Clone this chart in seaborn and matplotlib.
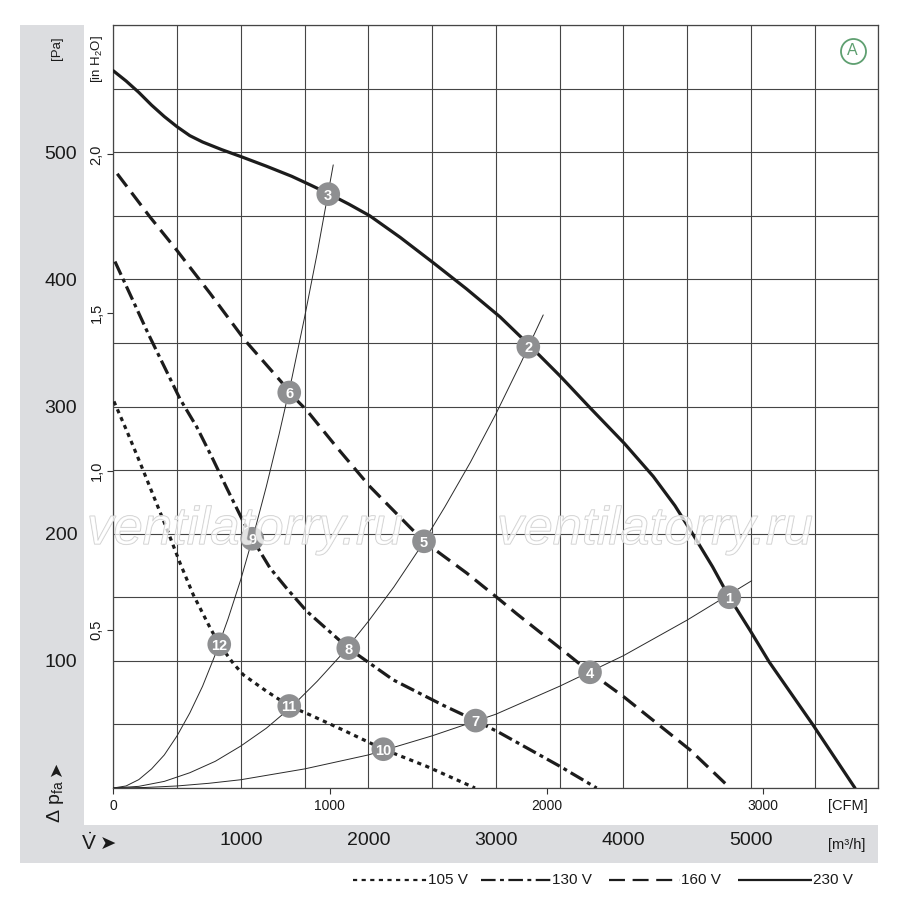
import numpy as np
import pandas as pd
import matplotlib
matplotlib.use("Agg")
import matplotlib.pyplot as plt
import matplotlib.patheffects as pe
from matplotlib.patches import Rectangle
from matplotlib.lines import Line2D
import seaborn as sns

# -----------------------------
# data (flow in m3/h, pressure in Pa)
# -----------------------------
q_230 = [0, 100, 200, 300, 400, 500, 600, 700, 850, 1015, 1200, 1400, 1550, 1686, 1850, 2011,
         2250, 2510, 2770, 3033, 3255, 3504, 3739, 4008, 4235, 4405, 4549, 4700, 4831, 4994,
         5145, 5485, 5817]
p_230 = [564, 556, 547, 537, 528, 520, 513, 508, 502, 496, 489, 481, 474, 467.5, 459, 450,
         433, 413, 392.5, 370.5, 349, 324, 299, 271, 245, 222, 199, 174, 150, 124,
         99, 50, 0]

q_160 = [31, 288, 497, 759, 1033, 1321, 1380, 1517, 1752, 2013, 2327, 2437, 2562, 2772, 3007,
         3164, 3504, 3739, 4000, 4523, 4837]
p_160 = [483, 449, 423, 389, 352, 319, 311, 297, 268, 237, 205, 194, 184.5, 169, 150,
         137, 110, 91, 72, 30, 0]

q_130 = [13, 275, 523, 654, 784, 889, 1007, 1090, 1229, 1360, 1517, 1843, 2196, 2588, 2842,
         3020, 3504, 3791]
p_130 = [414, 357, 306, 284, 258, 236, 212, 196, 173, 157, 139, 110, 85, 65, 53,
         44, 17, 0]

q_105 = [5, 105, 209, 314, 419, 523, 627, 759, 831, 941, 1020, 1203, 1380, 1543, 1804, 2118,
         2458, 2837]
p_105 = [304, 281, 256, 230, 204, 177, 152, 126, 113, 98, 89, 76, 64.5, 57.5, 45.5, 30.5,
         17, 0]

# system (load) curves through the operating points
q_sysA = [0, 100, 200, 300, 400, 500, 600, 700, 800, 900, 1000, 1100, 1200, 1300, 1400, 1500, 1600, 1725]
p_sysA = [0, 1.6, 6.6, 15, 26, 41, 59, 80, 105, 133, 164, 199, 237, 278, 322, 370, 421, 490]
q_sysB = [0, 200, 400, 600, 800, 1000, 1200, 1400, 1600, 1800, 2000, 2200, 2400, 2600, 2800, 3000, 3200, 3372]
p_sysB = [0, 1.3, 5.2, 12, 21, 33, 47, 64, 84, 106, 131, 158, 188, 221, 256, 294, 335, 372]
q_sysC = [0, 250, 500, 750, 1000, 1500, 2000, 2500, 3000, 3500, 4000, 4500, 5007]
p_sysC = [0, 0.4, 1.6, 3.7, 6.5, 15, 26, 41, 58, 80, 104, 132, 163]

# numbered operating points
pt_num = [1, 2, 3, 4, 5, 6, 7, 8, 9, 10, 11, 12]
pt_q = [4831, 3255, 1686, 3739, 2437, 1380, 2842, 1843, 1090, 2118, 1380, 831]
pt_p = [150, 347, 467, 91, 194, 311, 53, 110, 196, 30.5, 64.5, 113]

pa_labels = [100, 200, 300, 400, 500]
m3h_labels = [1000, 2000, 3000, 4000, 5000]
cfm_ticks = [0, 1000, 2000, 3000]
inh2o_ticks = [0.5, 1.0, 1.5, 2.0]
legend_names = ["105 V", "130 V", "160 V", "230 V"]

# -----------------------------
# style
# -----------------------------
sns.set_theme(style="white")
FONT = ["Liberation Sans", "DejaVu Sans"]
plt.rcParams["font.family"] = FONT
plt.rcParams["lines.scale_dashes"] = False
plt.rcParams["mathtext.fontset"] = "custom"
plt.rcParams["mathtext.rm"] = "Liberation Sans"
plt.rcParams["mathtext.it"] = "Liberation Sans:italic"

W, H = 900, 898
fig = plt.figure(figsize=(9, 8.98), dpi=100)


def fx(px):
    return px / W


def fy(py):
    return 1 - py / H


TXT = "#1a1a1a"

# gray bands
fig.add_artist(Rectangle((fx(20), fy(863)), fx(84) - fx(20), fy(25) - fy(863),
                         transform=fig.transFigure, color="#dcdde0", zorder=0, lw=0))
fig.add_artist(Rectangle((fx(20), fy(863)), fx(878) - fx(20), fy(825) - fy(863),
                         transform=fig.transFigure, color="#dcdde0", zorder=0, lw=0))

ax = fig.add_axes([fx(113.3), fy(788), fx(878.3) - fx(113.3), fy(25) - fy(788)])
ax.set_xlim(0, 6000)
ax.set_ylim(0, 600)
ax.set_axisbelow(True)

GRID = "#454545"
ax.set_xticks(np.arange(0, 6001, 500))
ax.set_yticks(np.arange(0, 601, 50))
ax.set_xticklabels([str(v) if v in m3h_labels else "" for v in np.arange(0, 6001, 500)])
ax.set_yticklabels([str(v) if v in pa_labels else "" for v in np.arange(0, 601, 50)])
ax.grid(True, color=GRID, lw=0.8)
ax.tick_params(axis="x", length=0, pad=32, labelsize=14, colors=TXT)
ax.tick_params(axis="y", length=0, pad=26, labelsize=14, colors=TXT)
for s in ax.spines.values():
    s.set_color(GRID)
    s.set_linewidth(0.9)

# CFM scale under the plot
sec_x = ax.secondary_xaxis("bottom", functions=(lambda q: q / 1.699, lambda c: c * 1.699))
sec_x.set_xticks(cfm_ticks)
sec_x.tick_params(length=4, width=0.8, color="#333333", pad=4, labelsize=10, labelcolor=TXT)
sec_x.spines["bottom"].set_visible(False)

# in H2O scale left of the plot
sec_y = ax.secondary_yaxis("left", functions=(lambda p: p / 249.09, lambda h: h * 249.09))
sec_y.set_yticks(inh2o_ticks)
sec_y.set_yticklabels([f"{v:.1f}".replace(".", ",") for v in inh2o_ticks],
                      rotation=90, va="center", ha="right")
sec_y.tick_params(length=4.5, width=0.8, color="#333333", pad=2.5, labelsize=10.5, labelcolor=TXT)
sec_y.spines["left"].set_visible(False)

# watermark
for cx in (245, 655):
    fig.text(fx(cx), fy(530), "ventilatorry.ru", ha="center", va="center", fontsize=38,
             style="italic", color=(1, 1, 1, 0.5), zorder=3,
             path_effects=[pe.Stroke(linewidth=0.8, foreground="#cccccc"), pe.Normal()])

# system curves
for q, p in ((q_sysA, p_sysA), (q_sysB, p_sysB), (q_sysC, p_sysC)):
    sns.lineplot(x=q, y=p, ax=ax, color="#2a2a2a", lw=0.7, estimator=None, sort=False, zorder=4)

# fan curves
INK = "#1c1c1c"
curve_styles = {
    "105 V": (q_105, p_105, (3.0, 3.2)),
    "130 V": (q_130, p_130, (10.5, 3.2, 2.8, 3.2)),
    "160 V": (q_160, p_160, (11.5, 5.5)),
    "230 V": (q_230, p_230, None),
}
for name, (q, p, dash) in curve_styles.items():
    kw = dict(color=INK, lw=2.3, estimator=None, sort=False, zorder=5, ax=ax)
    if dash is not None:
        kw["dashes"] = dash
    sns.lineplot(x=q, y=p, **kw)
for ln in ax.lines:
    ln.set_dash_capstyle("butt")
    ln.set_solid_capstyle("round")
    ln.set_solid_joinstyle("round")

# numbered operating points
pts = pd.DataFrame({"q": pt_q, "p": pt_p, "n": pt_num})
sns.scatterplot(data=pts, x="q", y="p", ax=ax, s=290, color="#8e8f91", edgecolor="none",
                zorder=7, legend=False)
for _, r in pts.iterrows():
    ax.text(r["q"], r["p"], str(int(r["n"])), ha="center", va="center_baseline",
            fontsize=10.5, fontweight="bold", color="white", zorder=8)

ax.set_xlabel("")
ax.set_ylabel("")

# "A" badge
ax.plot([0.9665], [0.9663], transform=ax.transAxes, marker="o", ms=18, mfc="white",
        mec="#5e9f70", mew=1.3, zorder=9, clip_on=False)
ax.text(0.9665, 0.9663, "A", transform=ax.transAxes, ha="center", va="center",
        fontsize=11.5, color="#5e9f70", zorder=10)

# axis captions
fig.text(fx(57), fy(48), "[Pa]", rotation=90, ha="center", va="center", fontsize=9.5, color=TXT)
fig.text(fx(97), fy(59), "[in H$_2$O]", rotation=90, ha="center", va="center", fontsize=9.5,
         color=TXT)
fig.text(fx(55), fy(802), "Δ p$_{\\mathrm{fa}}$", rotation=90, ha="center", va="center",
         fontsize=14, color=TXT)
fig.text(fx(56), fy(768), "➤", rotation=90, ha="center", va="center", fontsize=13,
         family="DejaVu Sans", color=TXT)
fig.text(fx(848), fy(806), "[CFM]", ha="center", va="center", fontsize=10.5, color=TXT)
fig.text(fx(847), fy(845), "[m³/h]", ha="center", va="center", fontsize=10.5, color=TXT)
fig.text(fx(89), fy(843), "$\\dot{\\mathrm{V}}$", ha="center", va="center", fontsize=15,
         color=TXT)
fig.text(fx(108), fy(844), "➤", ha="center", va="center", fontsize=14,
         family="DejaVu Sans", color=TXT)

# legend row
leg_pos = [(353, 427), (481, 551), (609, 680), (738, 812)]
for name, (x0, x1) in zip(legend_names, leg_pos):
    dash = curve_styles[name][2]
    ln = Line2D([fx(x0), fx(x1)], [fy(880), fy(880)], transform=fig.transFigure,
                color=INK, lw=1.6, solid_capstyle="butt", dash_capstyle="butt")
    if dash is not None:
        ln.set_dashes(dash)
    fig.add_artist(ln)
    fig.text(fx(x1 + 1), fy(880), name, ha="left", va="center", fontsize=11, color=TXT)

fig.savefig("out.png", dpi=100, facecolor="white")
